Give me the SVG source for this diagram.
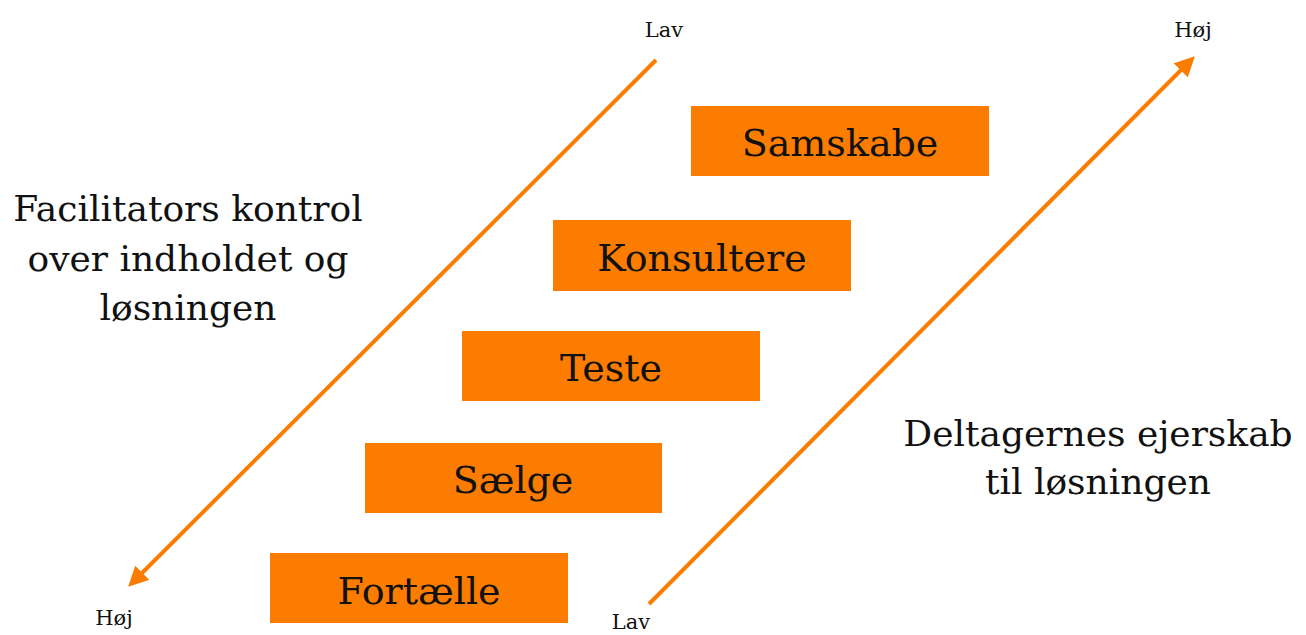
<svg xmlns="http://www.w3.org/2000/svg" width="1306" height="635" viewBox="0 0 1306 635">
<style>
.box{fill:#FC7C00}
.bl{font-family:"DejaVu Serif","Liberation Serif",serif;font-size:38px;fill:#111;text-anchor:middle}
.side{font-family:"DejaVu Serif","Liberation Serif",serif;font-size:36px;fill:#111;text-anchor:middle}
.sm{font-family:"DejaVu Serif","Liberation Serif",serif;font-size:21px;fill:#111;text-anchor:middle}
.arr{stroke:#FC7C00;stroke-width:4;fill:none}
</style>
<defs>
<marker id="ah" viewBox="0 0 10 10" refX="8" refY="5" markerWidth="5" markerHeight="5" orient="auto" markerUnits="strokeWidth">
<path d="M0,0 L10,5 L0,10 z" fill="#FC7C00"/>
</marker>
</defs>
<rect width="1306" height="635" fill="#fff"/>
<g id="connectors">
<line class="arr" x1="656" y1="60" x2="131" y2="584" marker-end="url(#ah)"/>
<line class="arr" x1="649" y1="604" x2="1192" y2="59" marker-end="url(#ah)"/>
</g>
<g id="samskabe"><rect class="box" x="691" y="106" width="298" height="70"/><text class="bl" x="840" y="156">Samskabe</text></g>
<g id="konsultere"><rect class="box" x="553" y="220" width="298" height="71"/><text class="bl" x="702" y="271">Konsultere</text></g>
<g id="teste"><rect class="box" x="462" y="331" width="298" height="70"/><text class="bl" x="611" y="381">Teste</text></g>
<g id="saelge"><rect class="box" x="365" y="443" width="297" height="70"/><text class="bl" x="513" y="493">Sælge</text></g>
<g id="fortaelle"><rect class="box" x="270" y="553" width="298" height="70"/><text class="bl" x="419" y="604">Fortælle</text></g>
<g id="left-label"><text class="side" x="188" y="221">Facilitators kontrol</text><text class="side" x="188" y="271">over indholdet og</text><text class="side" x="188" y="320">løsningen</text></g>
<g id="right-label"><text class="side" x="1098" y="446">Deltagernes ejerskab</text><text class="side" x="1098" y="494">til løsningen</text></g>
<g id="scale-labels">
<text class="sm" x="664" y="37">Lav</text>
<text class="sm" x="1193" y="37">Høj</text>
<text class="sm" x="114" y="625">Høj</text>
<text class="sm" x="631" y="629">Lav</text>
</g>
</svg>
